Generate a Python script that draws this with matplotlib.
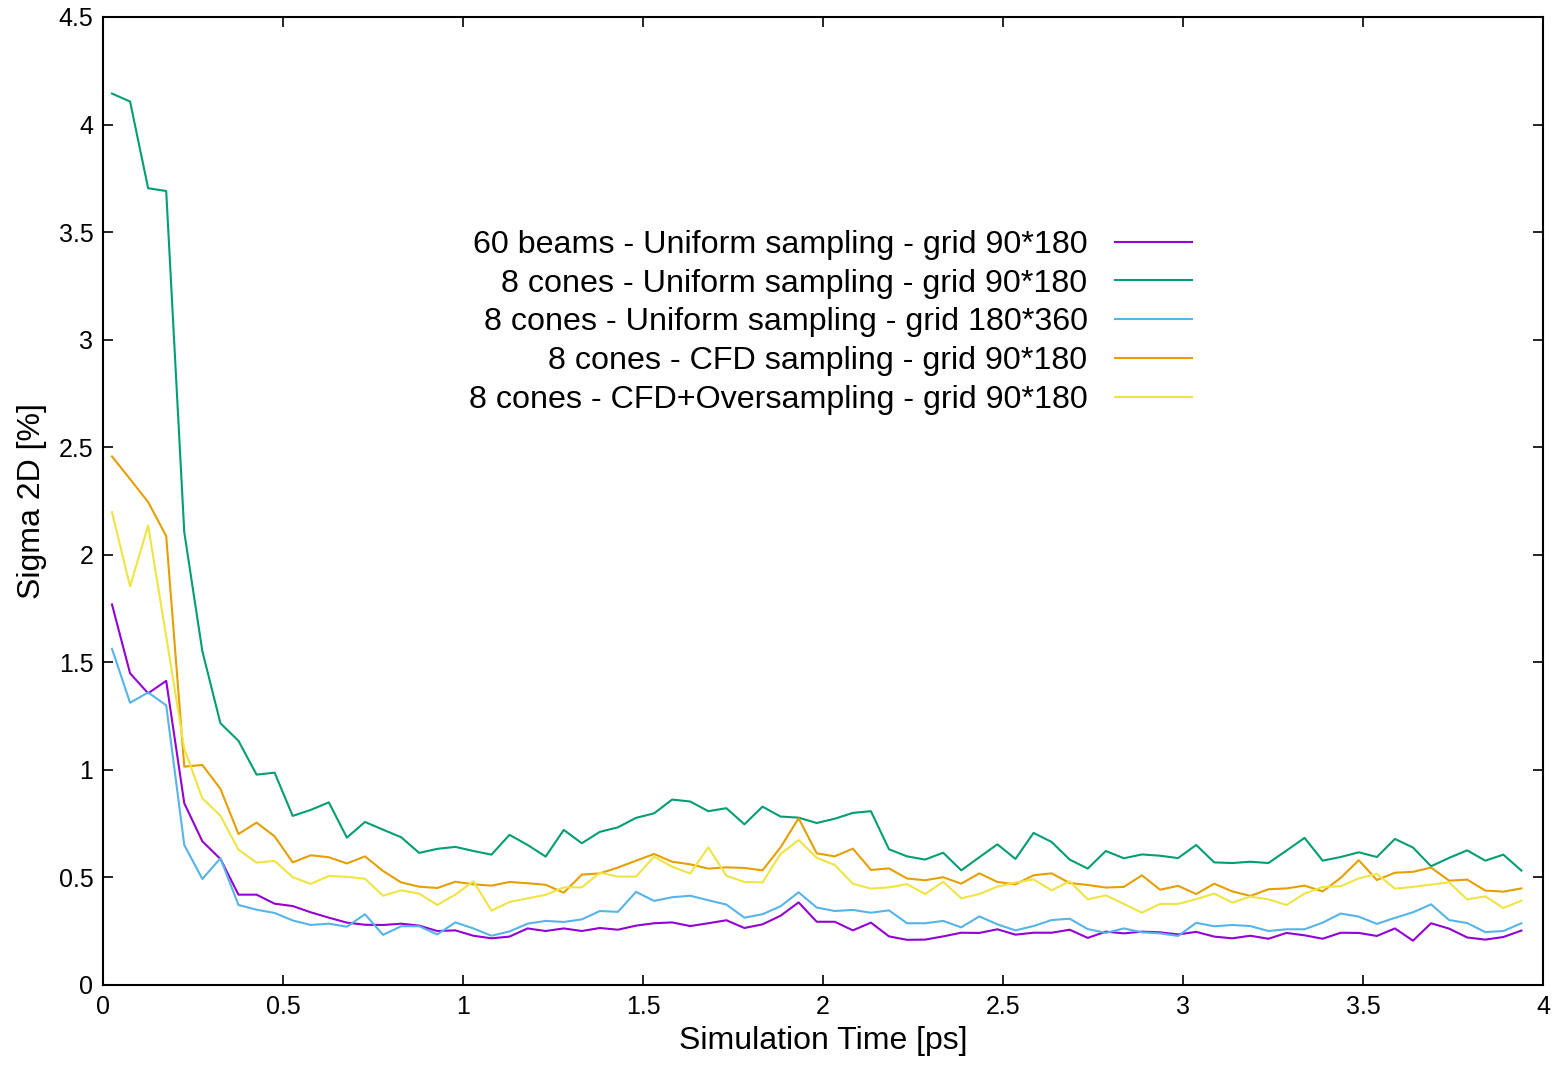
import numpy as np
import matplotlib
matplotlib.use("Agg")
import matplotlib.pyplot as plt
from matplotlib.ticker import FormatStrFormatter, MultipleLocator

plt.rcParams['font.family'] = ['Liberation Sans', 'DejaVu Sans']

# simulation time [ps], one sample every ~0.05 ps
time_ps = np.linspace(0.025, 3.94, 79)

beams60_uniform_90 = [
    1.769, 1.449, 1.356, 1.414, 0.845, 0.668, 0.586, 0.420, 0.420, 0.378,
    0.367, 0.338, 0.313, 0.290, 0.280, 0.279, 0.285, 0.276, 0.251, 0.254,
    0.229, 0.217, 0.225, 0.263, 0.251, 0.263, 0.251, 0.265, 0.257, 0.276,
    0.287, 0.291, 0.274, 0.287, 0.301, 0.265, 0.282, 0.322, 0.384, 0.294,
    0.294, 0.254, 0.290, 0.226, 0.210, 0.211, 0.226, 0.243, 0.242, 0.259,
    0.234, 0.243, 0.243, 0.257, 0.219, 0.248, 0.240, 0.248, 0.245, 0.235,
    0.247, 0.225, 0.217, 0.229, 0.215, 0.242, 0.231, 0.215, 0.243, 0.242,
    0.228, 0.263, 0.206, 0.287, 0.262, 0.221, 0.211, 0.223, 0.253]

cones8_uniform_90 = [
    4.144, 4.107, 3.704, 3.691, 2.105, 1.552, 1.217, 1.135, 0.978, 0.987,
    0.786, 0.814, 0.849, 0.685, 0.758, 0.722, 0.687, 0.614, 0.633, 0.642,
    0.623, 0.606, 0.698, 0.651, 0.597, 0.721, 0.659, 0.712, 0.733, 0.777,
    0.798, 0.862, 0.853, 0.808, 0.822, 0.747, 0.829, 0.783, 0.778, 0.753,
    0.773, 0.800, 0.808, 0.631, 0.598, 0.583, 0.615, 0.533, 0.594, 0.654,
    0.586, 0.707, 0.665, 0.583, 0.541, 0.623, 0.589, 0.607, 0.601, 0.590,
    0.651, 0.570, 0.567, 0.573, 0.567, 0.625, 0.684, 0.578, 0.595, 0.617,
    0.595, 0.679, 0.639, 0.552, 0.591, 0.626, 0.578, 0.606, 0.532]

cones8_uniform_180 = [
    1.563, 1.312, 1.360, 1.300, 0.651, 0.493, 0.589, 0.372, 0.350, 0.335,
    0.300, 0.279, 0.285, 0.271, 0.329, 0.233, 0.273, 0.273, 0.235, 0.291,
    0.263, 0.229, 0.249, 0.285, 0.298, 0.293, 0.305, 0.344, 0.340, 0.433,
    0.391, 0.408, 0.415, 0.394, 0.374, 0.313, 0.329, 0.366, 0.431, 0.360,
    0.344, 0.349, 0.336, 0.347, 0.287, 0.287, 0.298, 0.268, 0.319, 0.282,
    0.254, 0.274, 0.302, 0.308, 0.260, 0.242, 0.263, 0.245, 0.240, 0.228,
    0.289, 0.273, 0.279, 0.274, 0.251, 0.259, 0.259, 0.290, 0.332, 0.318,
    0.284, 0.312, 0.338, 0.375, 0.302, 0.288, 0.246, 0.251, 0.287]

cones8_cfd_90 = [
    2.457, 2.352, 2.245, 2.087, 1.015, 1.023, 0.912, 0.702, 0.755, 0.691,
    0.570, 0.603, 0.594, 0.565, 0.598, 0.530, 0.477, 0.457, 0.451, 0.480,
    0.468, 0.462, 0.479, 0.473, 0.466, 0.429, 0.513, 0.519, 0.546, 0.578,
    0.609, 0.573, 0.561, 0.541, 0.547, 0.544, 0.533, 0.640, 0.775, 0.612,
    0.598, 0.634, 0.535, 0.542, 0.495, 0.487, 0.501, 0.471, 0.519, 0.479,
    0.468, 0.510, 0.519, 0.474, 0.465, 0.453, 0.456, 0.510, 0.443, 0.461,
    0.423, 0.471, 0.435, 0.414, 0.445, 0.449, 0.462, 0.435, 0.498, 0.580,
    0.488, 0.522, 0.526, 0.546, 0.485, 0.490, 0.439, 0.434, 0.449]

cones8_cfd_over_90 = [
    2.198, 1.853, 2.136, 1.620, 1.098, 0.868, 0.787, 0.629, 0.569, 0.577,
    0.501, 0.470, 0.507, 0.503, 0.494, 0.415, 0.440, 0.425, 0.372, 0.420,
    0.482, 0.346, 0.386, 0.403, 0.419, 0.454, 0.454, 0.522, 0.504, 0.504,
    0.597, 0.550, 0.518, 0.640, 0.508, 0.479, 0.477, 0.609, 0.674, 0.591,
    0.558, 0.471, 0.448, 0.454, 0.469, 0.423, 0.480, 0.403, 0.423, 0.457,
    0.476, 0.491, 0.440, 0.482, 0.398, 0.417, 0.377, 0.336, 0.377, 0.377,
    0.399, 0.425, 0.383, 0.411, 0.398, 0.372, 0.425, 0.456, 0.459, 0.496,
    0.516, 0.448, 0.456, 0.467, 0.477, 0.398, 0.412, 0.358, 0.392]

series = [
    ("60 beams - Uniform sampling - grid 90*180", beams60_uniform_90, "#9400d3"),
    ("8 cones - Uniform sampling - grid 90*180", cones8_uniform_90, "#009e73"),
    ("8 cones - Uniform sampling - grid 180*360", cones8_uniform_180, "#56b4e9"),
    ("8 cones - CFD sampling - grid 90*180", cones8_cfd_90, "#e69f00"),
    ("8 cones - CFD+Oversampling - grid 90*180", cones8_cfd_over_90, "#f0e442"),
]

fig = plt.figure(figsize=(15.6, 10.67), dpi=100)
ax = fig.add_axes([103/1560, 1 - 985/1067, 1440/1560, 968/1067])

for label, vals, col in series:
    ax.plot(time_ps, vals, color=col, lw=1.5, label=label)

ax.set_xlim(0, 4)
ax.set_ylim(0, 4.5)
ax.xaxis.set_major_locator(MultipleLocator(0.5))
ax.yaxis.set_major_locator(MultipleLocator(0.5))
ax.xaxis.set_major_formatter(FormatStrFormatter('%g'))
ax.yaxis.set_major_formatter(FormatStrFormatter('%g'))
ax.tick_params(direction='in', length=7, width=1.2, top=True, right=True,
               labelsize=18, pad=7)
for s in ax.spines.values():
    s.set_linewidth(1.5)

ax.set_xlabel('Simulation Time [ps]', fontsize=23, labelpad=5)
ax.set_ylabel('Sigma 2D [%]', fontsize=23, labelpad=8)

leg = ax.legend(loc='upper right', bbox_to_anchor=(1192/1560, 1 - 230/1067),
                bbox_transform=fig.transFigure, frameon=False, markerfirst=False,
                fontsize=23.2, handlelength=2.4, handletextpad=0.84,
                labelspacing=0.27, borderpad=0, borderaxespad=0)

plt.savefig('out.png', dpi=100)
